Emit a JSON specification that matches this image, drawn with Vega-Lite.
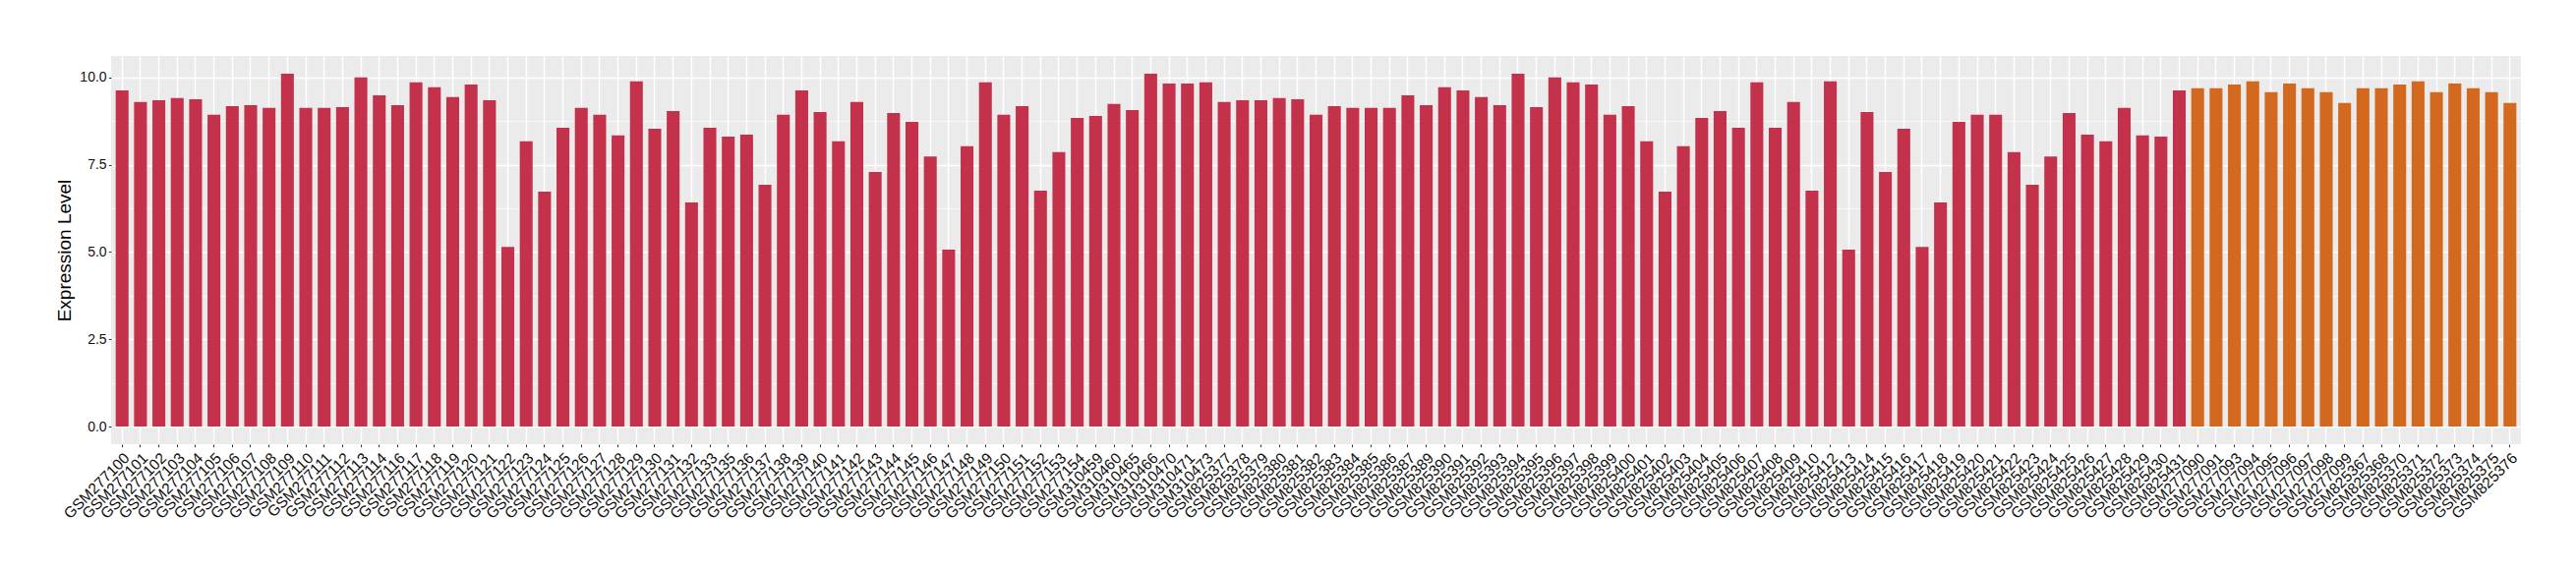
{
"$schema": "https://vega.github.io/schema/vega-lite/v6.json",
"width": 2451,
"height": 395,
"autosize": {"type": "none"},
"padding": {"left": 113, "top": 57, "right": 56, "bottom": 128},
"background": "white",
"config": {"view": {"stroke": null, "fill": "#EBEBEB"}, "font": "Liberation Sans"},
"data": {"values": [
{"s":"GSM277100","v":9.63,"g":"a"},
{"s":"GSM277101","v":9.30,"g":"a"},
{"s":"GSM277102","v":9.35,"g":"a"},
{"s":"GSM277103","v":9.41,"g":"a"},
{"s":"GSM277104","v":9.38,"g":"a"},
{"s":"GSM277105","v":8.93,"g":"a"},
{"s":"GSM277106","v":9.18,"g":"a"},
{"s":"GSM277107","v":9.21,"g":"a"},
{"s":"GSM277108","v":9.13,"g":"a"},
{"s":"GSM277109","v":10.11,"g":"a"},
{"s":"GSM277110","v":9.13,"g":"a"},
{"s":"GSM277111","v":9.13,"g":"a"},
{"s":"GSM277112","v":9.15,"g":"a"},
{"s":"GSM277113","v":10.0,"g":"a"},
{"s":"GSM277114","v":9.49,"g":"a"},
{"s":"GSM277116","v":9.21,"g":"a"},
{"s":"GSM277117","v":9.86,"g":"a"},
{"s":"GSM277118","v":9.72,"g":"a"},
{"s":"GSM277119","v":9.44,"g":"a"},
{"s":"GSM277120","v":9.80,"g":"a"},
{"s":"GSM277121","v":9.35,"g":"a"},
{"s":"GSM277122","v":5.15,"g":"a"},
{"s":"GSM277123","v":8.17,"g":"a"},
{"s":"GSM277124","v":6.73,"g":"a"},
{"s":"GSM277125","v":8.56,"g":"a"},
{"s":"GSM277126","v":9.13,"g":"a"},
{"s":"GSM277127","v":8.93,"g":"a"},
{"s":"GSM277128","v":8.34,"g":"a"},
{"s":"GSM277129","v":9.89,"g":"a"},
{"s":"GSM277130","v":8.53,"g":"a"},
{"s":"GSM277131","v":9.04,"g":"a"},
{"s":"GSM277132","v":6.42,"g":"a"},
{"s":"GSM277133","v":8.56,"g":"a"},
{"s":"GSM277135","v":8.31,"g":"a"},
{"s":"GSM277136","v":8.36,"g":"a"},
{"s":"GSM277137","v":6.93,"g":"a"},
{"s":"GSM277138","v":8.93,"g":"a"},
{"s":"GSM277139","v":9.63,"g":"a"},
{"s":"GSM277140","v":9.01,"g":"a"},
{"s":"GSM277141","v":8.17,"g":"a"},
{"s":"GSM277142","v":9.30,"g":"a"},
{"s":"GSM277143","v":7.29,"g":"a"},
{"s":"GSM277144","v":8.98,"g":"a"},
{"s":"GSM277145","v":8.73,"g":"a"},
{"s":"GSM277146","v":7.74,"g":"a"},
{"s":"GSM277147","v":5.07,"g":"a"},
{"s":"GSM277148","v":8.03,"g":"a"},
{"s":"GSM277149","v":9.86,"g":"a"},
{"s":"GSM277150","v":8.93,"g":"a"},
{"s":"GSM277151","v":9.18,"g":"a"},
{"s":"GSM277152","v":6.76,"g":"a"},
{"s":"GSM277153","v":7.86,"g":"a"},
{"s":"GSM277154","v":8.84,"g":"a"},
{"s":"GSM310459","v":8.90,"g":"a"},
{"s":"GSM310460","v":9.24,"g":"a"},
{"s":"GSM310465","v":9.07,"g":"a"},
{"s":"GSM310466","v":10.11,"g":"a"},
{"s":"GSM310470","v":9.83,"g":"a"},
{"s":"GSM310471","v":9.83,"g":"a"},
{"s":"GSM310473","v":9.86,"g":"a"},
{"s":"GSM825377","v":9.30,"g":"a"},
{"s":"GSM825378","v":9.35,"g":"a"},
{"s":"GSM825379","v":9.35,"g":"a"},
{"s":"GSM825380","v":9.41,"g":"a"},
{"s":"GSM825381","v":9.38,"g":"a"},
{"s":"GSM825382","v":8.93,"g":"a"},
{"s":"GSM825383","v":9.18,"g":"a"},
{"s":"GSM825384","v":9.13,"g":"a"},
{"s":"GSM825385","v":9.13,"g":"a"},
{"s":"GSM825386","v":9.13,"g":"a"},
{"s":"GSM825387","v":9.49,"g":"a"},
{"s":"GSM825389","v":9.21,"g":"a"},
{"s":"GSM825390","v":9.72,"g":"a"},
{"s":"GSM825391","v":9.63,"g":"a"},
{"s":"GSM825392","v":9.44,"g":"a"},
{"s":"GSM825393","v":9.21,"g":"a"},
{"s":"GSM825394","v":10.11,"g":"a"},
{"s":"GSM825395","v":9.15,"g":"a"},
{"s":"GSM825396","v":10.0,"g":"a"},
{"s":"GSM825397","v":9.86,"g":"a"},
{"s":"GSM825398","v":9.80,"g":"a"},
{"s":"GSM825399","v":8.93,"g":"a"},
{"s":"GSM825400","v":9.18,"g":"a"},
{"s":"GSM825401","v":8.17,"g":"a"},
{"s":"GSM825402","v":6.73,"g":"a"},
{"s":"GSM825403","v":8.03,"g":"a"},
{"s":"GSM825404","v":8.84,"g":"a"},
{"s":"GSM825405","v":9.04,"g":"a"},
{"s":"GSM825406","v":8.56,"g":"a"},
{"s":"GSM825407","v":9.86,"g":"a"},
{"s":"GSM825408","v":8.56,"g":"a"},
{"s":"GSM825409","v":9.30,"g":"a"},
{"s":"GSM825410","v":6.76,"g":"a"},
{"s":"GSM825412","v":9.89,"g":"a"},
{"s":"GSM825413","v":5.07,"g":"a"},
{"s":"GSM825414","v":9.01,"g":"a"},
{"s":"GSM825415","v":7.29,"g":"a"},
{"s":"GSM825416","v":8.53,"g":"a"},
{"s":"GSM825417","v":5.15,"g":"a"},
{"s":"GSM825418","v":6.42,"g":"a"},
{"s":"GSM825419","v":8.73,"g":"a"},
{"s":"GSM825420","v":8.93,"g":"a"},
{"s":"GSM825421","v":8.93,"g":"a"},
{"s":"GSM825422","v":7.86,"g":"a"},
{"s":"GSM825423","v":6.93,"g":"a"},
{"s":"GSM825424","v":7.74,"g":"a"},
{"s":"GSM825425","v":8.98,"g":"a"},
{"s":"GSM825426","v":8.36,"g":"a"},
{"s":"GSM825427","v":8.17,"g":"a"},
{"s":"GSM825428","v":9.13,"g":"a"},
{"s":"GSM825429","v":8.34,"g":"a"},
{"s":"GSM825430","v":8.31,"g":"a"},
{"s":"GSM825431","v":9.63,"g":"a"},
{"s":"GSM277090","v":9.69,"g":"b"},
{"s":"GSM277091","v":9.69,"g":"b"},
{"s":"GSM277093","v":9.80,"g":"b"},
{"s":"GSM277094","v":9.89,"g":"b"},
{"s":"GSM277095","v":9.58,"g":"b"},
{"s":"GSM277096","v":9.83,"g":"b"},
{"s":"GSM277097","v":9.69,"g":"b"},
{"s":"GSM277098","v":9.58,"g":"b"},
{"s":"GSM277099","v":9.27,"g":"b"},
{"s":"GSM825367","v":9.69,"g":"b"},
{"s":"GSM825368","v":9.69,"g":"b"},
{"s":"GSM825370","v":9.80,"g":"b"},
{"s":"GSM825371","v":9.89,"g":"b"},
{"s":"GSM825372","v":9.58,"g":"b"},
{"s":"GSM825373","v":9.83,"g":"b"},
{"s":"GSM825374","v":9.69,"g":"b"},
{"s":"GSM825375","v":9.58,"g":"b"},
{"s":"GSM825376","v":9.27,"g":"b"}
]},
"mark": {"type": "bar"},
"encoding": {
"x": {"field": "s", "type": "nominal", "sort": null,
 "scale": {"paddingInner": 0.3, "paddingOuter": 0.25},
 "axis": {"title": null, "labelAngle": -45, "labelAlign": "right", "labelBaseline": "top", "labelFontSize": 15.5, "labelColor": "#111111", "labelPadding": 3.5, "labelOverlap": false, "labelBound": false, "tickSize": 2.7, "tickColor": "#333333", "tickWidth": 1, "domain": false, "grid": true, "gridColor": "white", "gridWidth": 1.4, "bandPosition": 0.5}},
"y": {"field": "v", "type": "quantitative",
 "scale": {"domain": [-0.5055, 10.6155], "nice": false, "zero": false},
 "axis": {"title": "Expression Level", "values": [0, 1.25, 2.5, 3.75, 5, 6.25, 7.5, 8.75, 10],
  "labelExpr": "datum.value % 2.5 === 0 ? format(datum.value, '.1f') : ''",
  "labelFontSize": 14, "labelColor": "#111111", "labelPadding": 2.2,
  "tickSize": 2.7, "tickColor": "#333333", "tickWidth": 1,
  "tickOpacity": {"condition": {"test": "datum.value % 2.5 === 0", "value": 1}, "value": 0},
  "domain": false, "grid": true, "gridColor": "white",
  "gridWidth": {"condition": {"test": "datum.value % 2.5 === 0", "value": 1.4}, "value": 0.7},
  "titleFontSize": 19, "titleFontWeight": "normal", "titleColor": "black",
  "titleX": -42, "titleY": 197.5, "titleBaseline": "alphabetic", "titleAlign": "center"}},
"y2": {"datum": 0},
"color": {"field": "g", "type": "nominal", "scale": {"domain": ["a", "b"], "range": ["#C4314B", "#D2691E"]}, "legend": null}
}
}
